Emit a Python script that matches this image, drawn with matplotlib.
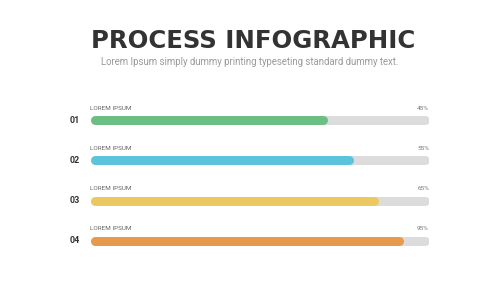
import matplotlib.pyplot as plt

steps = ['01', '02', '03', '04']
names = ['LOREM IPSUM', 'LOREM IPSUM', 'LOREM IPSUM', 'LOREM IPSUM']
pct_labels = ['45%', '55%', '65%', '95%']
fill = [0.70, 0.776, 0.85, 0.926]
colors = ['#6cbf84', '#5bc3dc', '#ecc960', '#e69a4c']
track_color = '#dcdcdc'

plt.rcParams['font.family'] = ['Roboto', 'DejaVu Sans']

fig = plt.figure(figsize=(5, 3), dpi=100)
fig.patch.set_facecolor('white')

fig.text(0.506, 0.865, 'PROCESS INFOGRAPHIC', ha='center', va='center',
         fontsize=17.6, fontweight='bold', color='#333333', family='DejaVu Sans')
fig.text(0.5, 0.792, 'Lorem Ipsum simply dummy printing typeseting standard dummy text.',
         ha='center', va='center', fontsize=6.95, color='#9a9a9a')

# bars area: x 90..429 px, y 100..261 px
ax = fig.add_axes([90 / 500, 39 / 300, 339 / 500, 161 / 300])
ax.set_xlim(0, 1)
ax.set_ylim(3.5, -0.5)
ax.axis('off')

lw = 9 * 72 / 100  # 9 px thick bars
cap = 4.5 / 339
for i in range(len(steps)):
    ax.plot([cap, 1 - cap], [i, i], color=track_color, lw=lw, solid_capstyle='round')
    ax.plot([cap, fill[i] - cap], [i, i], color=colors[i], lw=lw, solid_capstyle='round')
    ax.text(-0.046, i, steps[i], ha='center', va='center', fontsize=6.5,
            fontweight='bold', color='#333333', clip_on=False)
    ax.text(0.0, i - 0.3, names[i], ha='left', va='center', fontsize=4.6,
            color='#666666', clip_on=False)
    ax.text(1.0, i - 0.3, pct_labels[i], ha='right', va='center', fontsize=4.6,
            color='#777777', clip_on=False)

fig.savefig('out.png', dpi=100, facecolor='white')
